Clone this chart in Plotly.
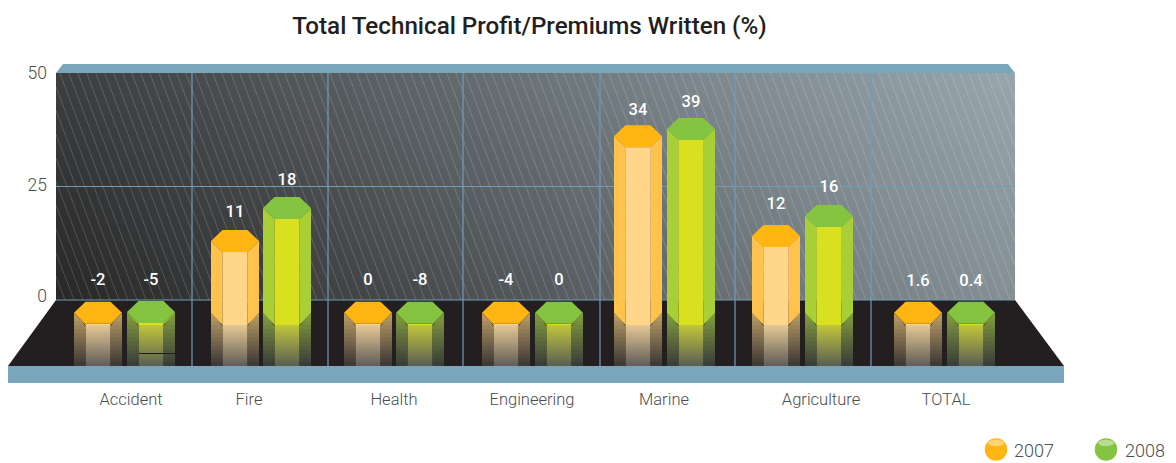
import numpy as np
import plotly.graph_objects as go

# ---------- data ----------
categories = ["Accident", "Fire", "Health", "Engineering", "Marine", "Agriculture", "TOTAL"]
series_names = ["2007", "2008"]
labels_2007 = ["-2", "11", "0", "-4", "34", "12", "1.6"]
labels_2008 = ["-5", "18", "-8", "0", "39", "16", "0.4"]
# height of each bar's top as read against the 0-25-50 axis
tops_2007 = [-0.4, 15.4, -0.4, -0.4, 38.5, 16.5, -0.4]
tops_2008 = [-0.2, 22.7, -0.4, -0.4, 40.1, 20.9, -0.4]
y_ticks = [0, 25, 50]

# ---------- layout geometry (screen pixels of the picture) ----------
W, H = 1176, 463
PX_PER_UNIT = 4.54
Y0_PX = 300


def Y(px):
    """Screen row -> y-axis units."""
    return (Y0_PX - np.asarray(px, dtype=float)) / PX_PER_UNIT


def U(v):
    """y-axis units -> screen row."""
    return Y0_PX - v * PX_PER_UNIT


centres_2007 = [98, 235, 368, 506, 638, 776, 918]
centres_2008 = [151, 287, 420, 559, 691, 829, 971]
label_gap_2007 = [21, 17, 21, 21, 14, 20, 20]
label_gap_2008 = [20, 16, 21, 21, 15, 17, 20]
label_x = [131, 249, 394, 532, 664, 821, 946]
grid_x = [192, 328, 463, 600, 735, 871]
tick_nudge_px = [4, 1.5, 0]

BLUE = "#7AA6BC"
GRID = "#6F9DB5"
FLOOR = "#231F20"

fig = go.Figure()


def poly(xs, ys_px, color, line=None):
    fig.add_trace(go.Scatter(
        x=list(xs), y=list(Y(ys_px)), mode="lines", fill="toself", fillcolor=color,
        line=dict(width=0.5 if line else 0, color=line or color),
        hoverinfo="skip", showlegend=False))


# ---------- back wall: diagonal gradient (cell edges given, so it stops at the wall) ----------
wx = np.linspace(56, 1015, 41)
wy_px = np.linspace(73, 300, 15)
cx_ = (wx[:-1] + wx[1:]) / 2
cy_ = (wy_px[:-1] + wy_px[1:]) / 2
gx, gy = np.meshgrid(cx_, cy_)
z = 0.8 * (gx - 56) / 959 + 0.2 * (300 - gy) / 227
fig.add_trace(go.Heatmap(
    x=wx, y=Y(wy_px), z=z, zsmooth="best", showscale=False, hoverinfo="skip",
    zmin=0, zmax=1,
    colorscale=[[0, "#272727"], [0.25, "#414345"], [0.5, "#5F666A"], [0.75, "#7F8A90"], [1, "#98A6AD"]]))

# diagonal hairline stripes across the wall
sx, sy = [], []
slope = 0.38  # horizontal run per pixel of drop
for x_top in np.arange(56 - 227 * slope, 1015, 9.0):
    t0 = max(73.0, 73 + (56 - x_top) / slope)
    t1 = min(300.0, 73 + (1015 - x_top) / slope)
    if t1 > t0:
        sx += [x_top + (t0 - 73) * slope, x_top + (t1 - 73) * slope, None]
        sy += [t0, t1, None]
fig.add_trace(go.Scatter(
    x=sx, y=[None if v is None else float(Y(v)) for v in sy], mode="lines",
    line=dict(color="rgba(255,255,255,0.17)", width=1),
    hoverinfo="skip", showlegend=False))

# ---------- top band, floor, front band ----------
poly([56, 63, 1008, 1015, 56], [73, 64, 64, 73, 73], BLUE)
poly([56, 1015, 1064, 8, 56], [300, 300, 366, 366, 300], FLOOR)
poly([8, 1064, 1064, 8, 8], [366, 366, 383, 383, 366], BLUE)

# ---------- grid ----------
gl_x, gl_y = [], []
for gx_ in grid_x:
    gl_x += [gx_, gx_, None]
    gl_y += [float(Y(73)), float(Y(366)), None]
for v in y_ticks[:2]:
    gl_x += [56, 1015, None]
    gl_y += [v, v, None]
fig.add_trace(go.Scatter(x=gl_x, y=gl_y, mode="lines", line=dict(color=GRID, width=1.2),
                         hoverinfo="skip", showlegend=False))

# ---------- bars ----------
STYLE = {
    "2007": dict(top="#FFB612", side="#FFC34D", front="#FFD68A",
                 r_side0=(185, 155, 100), r_side1=(62, 58, 55),
                 r_front0=(226, 198, 148), r_front1=(100, 95, 90)),
    "2008": dict(top="#84C440", side="#A8CF35", front="#D9E01F",
                 r_side0=(130, 155, 62), r_side1=(58, 62, 58),
                 r_front0=(190, 195, 60), r_front1=(92, 97, 84)),
}


def mix(a, b, t):
    return "rgb(%d,%d,%d)" % tuple(round(a[i] + (b[i] - a[i]) * t) for i in range(3))


def draw_bar(cx, top_val, st):
    T = U(top_val)
    R, r, q = 24, 12.5, 11  # outer half width, inner half width, hexagon half height
    side_low, front_low, floor_low = 313, 325, 366
    n = 20
    for i in range(n):
        y0 = front_low + (floor_low - front_low) * i / n
        yb = min(y0 + (floor_low - front_low) / n + 1, floor_low)
        poly([cx - r, cx + r, cx + r, cx - r, cx - r], [y0, y0, yb, yb, y0],
             mix(st["r_front0"], st["r_front1"], i / (n - 1)))
    m = 13
    for i in range(m):
        y0 = side_low + (floor_low - side_low) * i / m
        y1 = side_low + (floor_low - side_low) * (i + 1) / m
        yb = min(y1 + 1, floor_low)
        col = mix(st["r_side0"], st["r_side1"], i / (m - 1))
        il0 = cx - R + min((y0 - side_low) / (front_low - side_low), 1) * (R - r)
        il1 = cx - R + min((yb - side_low) / (front_low - side_low), 1) * (R - r)
        poly([cx - R, il0, il1, cx - R, cx - R], [y0, y0, yb, yb, y0], col)
        ir0, ir1 = 2 * cx - il0, 2 * cx - il1
        poly([cx + R, ir0, ir1, cx + R, cx + R], [y0, y0, yb, yb, y0], col)
    if T + 2 * q < front_low - 1:
        poly([cx - R, cx - r, cx - r, cx - R, cx - R],
             [T + q, T + 2 * q, front_low, side_low, T + q], st["side"])
        poly([cx + R, cx + r, cx + r, cx + R, cx + R],
             [T + q, T + 2 * q, front_low, side_low, T + q], st["side"])
        poly([cx - r, cx + r, cx + r, cx - r, cx - r],
             [T + 2 * q, T + 2 * q, front_low, front_low, T + 2 * q], st["front"])
    poly([cx - r, cx + r, cx + R, cx + r, cx - r, cx - R, cx - r],
         [T, T, T + q, T + 2 * q, T + 2 * q, T + q, T], st["top"])


for cx, t in zip(centres_2007, tops_2007):
    draw_bar(cx, t, STYLE["2007"])
for cx, t in zip(centres_2008, tops_2008):
    draw_bar(cx, t, STYLE["2008"])

# stray rule visible on the Accident 2008 reflection
fig.add_trace(go.Scatter(x=[139, 175], y=list(Y([353.5, 353.5])), mode="lines",
                         line=dict(color="#1c1c1c", width=1), hoverinfo="skip", showlegend=False))

# ---------- value labels ----------
LABEL_FONT = dict(family="Roboto", size=16.5, color="#FFFFFF", weight=500)
for xs, tops, gaps, labs in ((centres_2007, tops_2007, label_gap_2007, labels_2007),
                             (centres_2008, tops_2008, label_gap_2008, labels_2008)):
    ys = [float(t) + g / PX_PER_UNIT for t, g in zip(tops, gaps)]
    fig.add_trace(go.Scatter(x=xs, y=ys, text=labs, mode="text", textposition="middle center",
                             textfont=LABEL_FONT, hoverinfo="skip", showlegend=False))

# ---------- legend ----------
for x_, xt, name, col in ((996, 1014, "2007", "#FFB612"), (1106, 1125, "2008", "#84C440")):
    fig.add_trace(go.Scatter(x=[x_], y=[float(Y(449.5))], mode="markers",
                             marker=dict(size=22.5, color=col, line=dict(width=0)),
                             hoverinfo="skip", showlegend=False))
    th = np.linspace(0, 2 * np.pi, 30)
    fig.add_trace(go.Scatter(x=x_ + 8 * np.cos(th), y=Y(443 + 3.2 * np.sin(th)), mode="lines",
                             fill="toself", fillcolor="rgba(255,255,255,0.42)", line=dict(width=0),
                             hoverinfo="skip", showlegend=False))
    fig.add_trace(go.Scatter(x=[xt], y=[float(Y(452.5))], text=[name], mode="text",
                             textposition="middle right",
                             textfont=dict(family="Roboto", size=18, color="#4D4D4F", weight=300),
                             hoverinfo="skip", showlegend=False))

# ---------- axes ----------
fig.update_layout(
    width=W, height=H, margin=dict(l=0, r=0, t=0, b=0),
    paper_bgcolor="white", plot_bgcolor="white",
    font=dict(family="Roboto", color="#4D4D4F"),
    title=dict(text="Total Technical Profit/Premiums Written (%)",
               x=529.5 / W, xanchor="center", y=1 - 26 / H, yanchor="middle",
               font=dict(family="Roboto", size=24.2, color="#231F20", weight=500)),
    xaxis=dict(range=[0, W], domain=[0, 1], showgrid=False, zeroline=False, showline=False,
               tickmode="array", tickvals=label_x, ticktext=categories, ticks="",
               anchor="free", position=1 - 385 / H, ticklabelstandoff=2,
               tickfont=dict(family="Roboto", size=16.5, color="#4D4D4F", weight=300)),
    yaxis=dict(range=[(Y0_PX - H) / PX_PER_UNIT, Y0_PX / PX_PER_UNIT], domain=[0, 1],
               showgrid=False, zeroline=False, showline=False,
               tickmode="array",
               tickvals=[v + n / PX_PER_UNIT for v, n in zip(y_ticks, tick_nudge_px)],
               ticktext=[str(v) for v in y_ticks], ticks="",
               anchor="free", position=47 / W,
               tickfont=dict(family="Roboto", size=17.5, color="#4D4D4F", weight=300)),
    showlegend=False,
)

fig.write_html("out.html", config=dict(displayModeBar=False),
               post_script="document.body.style.margin='0';document.body.style.overflow='hidden';")
